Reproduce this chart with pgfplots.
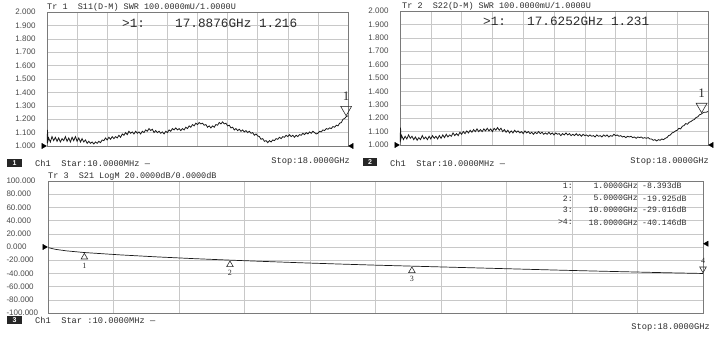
\documentclass[border=0pt]{standalone}
\usepackage{fontspec}
\setmainfont{Liberation Sans}
\newfontfamily\monof{Liberation Mono}
\newfontfamily\seriff{Liberation Serif}
\usepackage{pgfplots}
\pgfplotsset{compat=1.18}
\definecolor{trace}{HTML}{1A1A1A}
\definecolor{gridc}{HTML}{C8C8C8}
\definecolor{framec}{HTML}{7A7A7A}
\definecolor{txt}{HTML}{2C2C2C}
\definecolor{lab}{HTML}{4A4A4A}
\pgfplotsset{vna/.style={scale only axis, anchor=south west, xmin=0, xmax=18,
  xtick={0,1.8,3.6,5.4,7.2,9,10.8,12.6,14.4,16.2,18}, xticklabels={},
  grid=major, major grid style={gridc, line width=0.5pt},
  axis line style={framec, line width=0.7pt}, major tick length=0pt, tick style={draw=none},
  yticklabel style={font=\fontsize{8}{9}\selectfont, text=lab, xshift=-8pt},
  clip=false}}
\begin{document}
\begin{tikzpicture}
\path[use as bounding box] (0,0) rectangle (720pt,337pt);
% ---------------- panel 1 ----------------
\begin{axis}[vna, at={(47pt,191pt)}, width=301pt, height=134pt, ymin=1, ymax=2,
  ytick={1,1.1,1.2,1.3,1.4,1.5,1.6,1.7,1.8,1.9,2},
  yticklabels={1.000,1.100,1.200,1.300,1.400,1.500,1.600,1.700,1.800,1.900,2.000}]
\addplot[trace, line width=0.8pt, mark=none] coordinates {
(0.01,1.02)(0.03,1.12)(0.06,1.04)(0.1,1.06)(0.2,1.03)(0.3,1.07)(0.4,1.04)(0.5,1.065)(0.6,1.035)(0.7,1.06)
(0.8,1.03)(0.9,1.055)(1.0,1.04)(1.1,1.07)(1.2,1.035)(1.3,1.06)(1.4,1.03)(1.5,1.065)(1.6,1.04)(1.7,1.07)
(1.8,1.035)(1.9,1.06)(2.0,1.03)(2.1,1.055)(2.2,1.03)(2.3,1.045)(2.4,1.02)(2.5,1.035)(2.6,1.02)(2.7,1.03)
(2.8,1.015)(2.9,1.03)(3.0,1.02)(3.1,1.035)(3.2,1.025)(3.3,1.045)(3.4,1.04)(3.5,1.06)(3.6,1.045)(3.7,1.065)
(3.8,1.05)(3.9,1.07)(4.0,1.055)(4.1,1.07)(4.2,1.06)(4.3,1.08)(4.4,1.065)(4.5,1.09)(4.6,1.08)(4.7,1.10)
(4.8,1.085)(4.9,1.11)(5.0,1.095)(5.1,1.105)(5.2,1.09)(5.3,1.11)(5.4,1.095)(5.5,1.105)(5.6,1.09)(5.7,1.11)
(5.8,1.10)(5.9,1.12)(6.0,1.11)(6.1,1.13)(6.2,1.115)(6.3,1.125)(6.4,1.10)(6.5,1.115)(6.6,1.10)(6.7,1.11)
(6.8,1.095)(6.9,1.105)(7.0,1.09)(7.1,1.11)(7.2,1.10)(7.3,1.12)(7.4,1.11)(7.5,1.13)(7.6,1.12)(7.7,1.135)
(7.8,1.12)(7.9,1.13)(8.0,1.115)(8.1,1.13)(8.2,1.12)(8.3,1.14)(8.4,1.13)(8.5,1.15)(8.6,1.14)(8.7,1.16)
(8.8,1.15)(8.9,1.17)(9.0,1.16)(9.1,1.175)(9.2,1.165)(9.3,1.17)(9.4,1.155)(9.5,1.16)(9.6,1.14)(9.7,1.15)
(9.8,1.135)(9.9,1.15)(10.0,1.14)(10.1,1.16)(10.2,1.155)(10.3,1.175)(10.4,1.165)(10.5,1.18)(10.6,1.165)(10.7,1.17)
(10.8,1.15)(10.9,1.155)(11.0,1.135)(11.1,1.14)(11.2,1.12)(11.3,1.13)(11.4,1.115)(11.5,1.125)(11.6,1.11)(11.7,1.12)
(11.8,1.105)(11.9,1.115)(12.0,1.10)(12.1,1.11)(12.2,1.095)(12.3,1.10)(12.4,1.08)(12.5,1.09)(12.6,1.075)(12.7,1.07)
(12.8,1.05)(12.9,1.055)(13.0,1.035)(13.1,1.04)(13.2,1.025)(13.3,1.04)(13.4,1.03)(13.5,1.045)(13.6,1.04)(13.7,1.055)
(13.8,1.05)(13.9,1.065)(14.0,1.055)(14.1,1.07)(14.2,1.065)(14.3,1.08)(14.4,1.07)(14.5,1.085)(14.6,1.07)(14.7,1.08)
(14.8,1.065)(14.9,1.08)(15.0,1.07)(15.1,1.085)(15.2,1.08)(15.3,1.095)(15.4,1.085)(15.5,1.10)(15.6,1.09)(15.7,1.105)
(15.8,1.095)(15.9,1.11)(16.0,1.10)(16.1,1.09)(16.2,1.095)(16.3,1.11)(16.4,1.105)(16.5,1.12)(16.6,1.115)(16.7,1.13)
(16.8,1.125)(16.9,1.135)(17.0,1.13)(17.1,1.145)(17.2,1.14)(17.3,1.155)(17.4,1.15)(17.5,1.17)(17.6,1.175)(17.7,1.20)
(17.8,1.205)(17.9,1.22)(18.0,1.225)};
\addplot[only marks, mark=triangle, mark size=6.3pt, mark options={yshift=7.6pt, rotate=180, draw=txt, line width=0.6pt}] coordinates {(17.8876,1.216)};
\addplot[only marks, mark=triangle*, mark size=3pt, mark options={xshift=-3.6pt, rotate=-90, fill=black, draw=black}] coordinates {(0,1)};
\addplot[only marks, mark=triangle*, mark size=3pt, mark options={xshift=3.6pt, rotate=90, fill=black, draw=black}] coordinates {(18,1)};
\node[font=\seriff\fontsize{13}{13}\selectfont, text=txt] at (axis cs:17.8876,1.216) [yshift=21pt] {1};
\end{axis}
% ---------------- panel 2 ----------------
\begin{axis}[vna, at={(400pt,192pt)}, width=308pt, height=134pt, ymin=1, ymax=2,
  ytick={1,1.1,1.2,1.3,1.4,1.5,1.6,1.7,1.8,1.9,2},
  yticklabels={1.000,1.100,1.200,1.300,1.400,1.500,1.600,1.700,1.800,1.900,2.000}]
\addplot[trace, line width=0.8pt, mark=none] coordinates {
(0.01,1.02)(0.03,1.13)(0.06,1.05)(0.1,1.07)(0.2,1.04)(0.3,1.065)(0.4,1.045)(0.5,1.075)(0.6,1.05)(0.7,1.065)
(0.8,1.04)(0.9,1.06)(1.0,1.035)(1.1,1.055)(1.2,1.04)(1.3,1.07)(1.4,1.045)(1.5,1.06)(1.6,1.04)(1.7,1.065)
(1.8,1.045)(1.9,1.07)(2.0,1.05)(2.1,1.065)(2.2,1.045)(2.3,1.07)(2.4,1.05)(2.5,1.075)(2.6,1.055)(2.7,1.08)
(2.8,1.06)(2.9,1.075)(3.0,1.065)(3.1,1.09)(3.2,1.07)(3.3,1.085)(3.4,1.07)(3.5,1.095)(3.6,1.08)(3.7,1.10)
(3.8,1.085)(3.9,1.105)(4.0,1.09)(4.1,1.11)(4.2,1.095)(4.3,1.115)(4.4,1.10)(4.5,1.12)(4.6,1.10)(4.7,1.115)
(4.8,1.10)(4.9,1.12)(5.0,1.105)(5.1,1.125)(5.2,1.105)(5.3,1.12)(5.4,1.10)(5.5,1.125)(5.6,1.11)(5.7,1.13)
(5.8,1.11)(5.9,1.125)(6.0,1.10)(6.1,1.115)(6.2,1.095)(6.3,1.11)(6.4,1.09)(6.5,1.105)(6.6,1.09)(6.7,1.11)
(6.8,1.095)(6.9,1.105)(7.0,1.09)(7.1,1.10)(7.2,1.085)(7.3,1.105)(7.4,1.09)(7.5,1.10)(7.6,1.085)(7.7,1.095)
(7.8,1.08)(7.9,1.095)(8.0,1.085)(8.1,1.10)(8.2,1.085)(8.3,1.095)(8.4,1.08)(8.5,1.09)(8.6,1.08)(8.7,1.095)
(8.8,1.08)(8.9,1.09)(9.0,1.075)(9.1,1.09)(9.2,1.08)(9.3,1.085)(9.4,1.07)(9.5,1.085)(9.6,1.075)(9.7,1.09)
(9.8,1.075)(9.9,1.085)(10.0,1.07)(10.1,1.08)(10.2,1.07)(10.3,1.085)(10.4,1.07)(10.5,1.08)(10.6,1.065)(10.7,1.08)
(10.8,1.07)(10.9,1.075)(11.0,1.065)(11.1,1.075)(11.2,1.065)(11.3,1.07)(11.4,1.06)(11.5,1.075)(11.6,1.065)(11.7,1.07)
(11.8,1.06)(11.9,1.075)(12.0,1.065)(12.1,1.075)(12.2,1.06)(12.3,1.07)(12.4,1.065)(12.5,1.08)(12.6,1.07)(12.7,1.075)
(12.8,1.065)(12.9,1.07)(13.0,1.06)(13.1,1.065)(13.2,1.055)(13.3,1.065)(13.4,1.06)(13.5,1.065)(13.6,1.055)(13.7,1.06)
(13.8,1.05)(13.9,1.06)(14.0,1.055)(14.1,1.06)(14.2,1.05)(14.3,1.055)(14.4,1.05)(14.5,1.055)(14.6,1.045)(14.7,1.045)
(14.8,1.035)(14.9,1.04)(15.0,1.03)(15.1,1.04)(15.2,1.035)(15.3,1.045)(15.4,1.04)(15.5,1.05)(15.6,1.055)(15.7,1.07)
(15.8,1.075)(15.9,1.09)(16.0,1.095)(16.1,1.105)(16.2,1.11)(16.3,1.125)(16.4,1.12)(16.5,1.14)(16.6,1.145)(16.7,1.16)
(16.8,1.155)(16.9,1.17)(17.0,1.175)(17.1,1.185)(17.2,1.19)(17.3,1.205)(17.4,1.21)(17.5,1.225)(17.6,1.23)(17.7,1.24)
(17.8,1.245)(17.9,1.245)(18.0,1.25)};
\addplot[only marks, mark=triangle, mark size=6.3pt, mark options={yshift=7.6pt, rotate=180, draw=txt, line width=0.6pt}] coordinates {(17.6252,1.231)};
\addplot[only marks, mark=triangle*, mark size=3pt, mark options={xshift=-3.6pt, rotate=-90, fill=black, draw=black}] coordinates {(0,1)};
\addplot[only marks, mark=triangle*, mark size=3pt, mark options={xshift=3.6pt, rotate=90, fill=black, draw=black}] coordinates {(18,1)};
\node[font=\seriff\fontsize{13}{13}\selectfont, text=txt] at (axis cs:17.6252,1.231) [yshift=21pt] {1};
\end{axis}
% ---------------- panel 3 ----------------
\begin{axis}[vna, at={(48pt,24pt)}, width=655pt, height=132pt, ymin=-100, ymax=100,
  ytick={-100,-80,-60,-40,-20,0,20,40,60,80,100},
  yticklabel style={anchor=west, xshift=-37pt},
  yticklabels={-100.000,-80.000,-60.000,-40.000,-20.000,0.000,20.000,40.000,60.000,80.000,100.000}]
\addplot[trace, line width=0.7pt, mark=none] coordinates {
(0.01,-1)(0.2,-3.5)(0.5,-5.8)(1,-8.4)(2,-12)(3,-15)(4,-17.6)(5,-19.9)(6,-22)(7,-24)(8,-25.8)
(9,-27.5)(10,-29)(11,-30.5)(12,-32)(13,-33.5)(14,-35)(15,-36.4)(16,-37.7)(17,-39)(18,-40.1)};
\addplot[only marks, mark=triangle, mark size=3.8pt, mark options={yshift=-4.6pt, draw=txt, line width=0.6pt}] coordinates {(1,-8.393)(5,-19.925)(10,-29.016)};
\addplot[only marks, mark=triangle, mark size=3.8pt, mark options={yshift=4.6pt, rotate=180, draw=txt, line width=0.6pt}] coordinates {(18,-40.146)};
\addplot[only marks, mark=triangle*, mark size=3pt, mark options={xshift=-3.6pt, rotate=-90, fill=black, draw=black}] coordinates {(0,0)};
\addplot[only marks, mark=triangle*, mark size=3pt, mark options={xshift=3.6pt, rotate=90, fill=black, draw=black}] coordinates {(18,5)};
\node[font=\seriff\fontsize{8}{8}\selectfont, text=txt] at (axis cs:1,-8.393) [yshift=-13pt] {1};
\node[font=\seriff\fontsize{8}{8}\selectfont, text=txt] at (axis cs:5,-19.925) [yshift=-13pt] {2};
\node[font=\seriff\fontsize{8}{8}\selectfont, text=txt] at (axis cs:10,-29.016) [yshift=-13pt] {3};
\node[font=\seriff\fontsize{8}{8}\selectfont, text=txt] at (axis cs:18,-40.146) [yshift=13pt] {4};
\end{axis}
% ---------------- texts ----------------
\begin{scope}[every node/.style={inner sep=0pt, text=txt}]
\node[anchor=west, font=\monof\fontsize{8.5}{9}\selectfont] at (47pt,330pt) {Tr 1\ \ S11(D-M) SWR 100.0000mU/1.0000U};
\node[anchor=west, font=\monof\fontsize{8.5}{9}\selectfont] at (402pt,331pt) {Tr 2\ \ S22(D-M) SWR 100.0000mU/1.0000U};
\node[anchor=west, font=\monof\fontsize{8.5}{9}\selectfont] at (48pt,161pt) {Tr 3\ \ S21 LogM 20.0000dB/0.0000dB};
\node[anchor=west, font=\monof\fontsize{12.7}{13}\selectfont] at (122pt,314pt) {>1:};
\node[anchor=west, font=\monof\fontsize{12.7}{13}\selectfont] at (175pt,314pt) {17.8876GHz 1.216};
\node[anchor=west, font=\monof\fontsize{12.7}{13}\selectfont] at (483pt,316pt) {>1:};
\node[anchor=west, font=\monof\fontsize{12.7}{13}\selectfont] at (527pt,316pt) {17.6252GHz 1.231};
% panel 3 marker table
\node[anchor=east, font=\monof\fontsize{8.2}{9}\selectfont] at (573pt,151.3pt) {1:};
\node[anchor=east, font=\monof\fontsize{8.2}{9}\selectfont] at (573pt,138.7pt) {2:};
\node[anchor=east, font=\monof\fontsize{8.2}{9}\selectfont] at (573pt,127pt) {3:};
\node[anchor=east, font=\monof\fontsize{8.2}{9}\selectfont] at (573pt,114.7pt) {>4:};
\node[anchor=east, font=\monof\fontsize{8.2}{9}\selectfont] at (638pt,151.3pt) {1.0000GHz};
\node[anchor=east, font=\monof\fontsize{8.2}{9}\selectfont] at (638pt,138.7pt) {5.0000GHz};
\node[anchor=east, font=\monof\fontsize{8.2}{9}\selectfont] at (638pt,127pt) {10.0000GHz};
\node[anchor=east, font=\monof\fontsize{8.2}{9}\selectfont] at (638pt,114.7pt) {18.0000GHz};
\node[anchor=west, font=\monof\fontsize{8.2}{9}\selectfont] at (642pt,151.3pt) {-8.393dB};
\node[anchor=west, font=\monof\fontsize{8.2}{9}\selectfont] at (642pt,138.7pt) {-19.925dB};
\node[anchor=west, font=\monof\fontsize{8.2}{9}\selectfont] at (642pt,127pt) {-29.016dB};
\node[anchor=west, font=\monof\fontsize{8.2}{9}\selectfont] at (642pt,114.7pt) {-40.146dB};
% footers
\node[fill=black!85, text=white, minimum width=15pt, minimum height=8pt, font=\fontsize{7}{7}\selectfont\bfseries] at (14.5pt,173.5pt) {1};
\node[anchor=west, font=\monof\fontsize{8.7}{9}\selectfont] at (35pt,174pt) {Ch1\ \ Star:10.0000MHz \textemdash};
\node[anchor=east, font=\monof\fontsize{8.7}{9}\selectfont] at (350pt,175.5pt) {Stop:18.0000GHz};
\node[fill=black!85, text=white, minimum width=14pt, minimum height=8pt, font=\fontsize{7}{7}\selectfont\bfseries] at (370pt,174.5pt) {2};
\node[anchor=west, font=\monof\fontsize{8.7}{9}\selectfont] at (390pt,174pt) {Ch1\ \ Star:10.0000MHz \textemdash};
\node[anchor=east, font=\monof\fontsize{8.7}{9}\selectfont] at (709pt,176pt) {Stop:18.0000GHz};
\node[fill=black!85, text=white, minimum width=15pt, minimum height=8pt, font=\fontsize{7}{7}\selectfont\bfseries] at (14.5pt,16.5pt) {3};
\node[anchor=west, font=\monof\fontsize{8.7}{9}\selectfont] at (35pt,17pt) {Ch1\ \ Star :10.0000MHz \textemdash};
\node[anchor=east, font=\monof\fontsize{8.7}{9}\selectfont] at (710pt,10pt) {Stop:18.0000GHz};
\end{scope}
\end{tikzpicture}
\end{document}
